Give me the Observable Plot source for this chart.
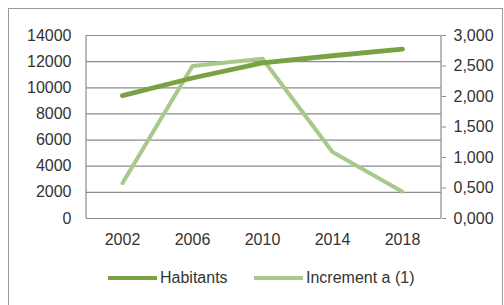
<!DOCTYPE html>
<html>
<head>
<meta charset="utf-8">
<script src="https://cdn.jsdelivr.net/npm/d3@7"></script>
<script src="https://cdn.jsdelivr.net/npm/@observablehq/plot@0.6"></script>
<style>
  body { margin: 0; background: #fff; font-family: "Liberation Sans", Arial, sans-serif; }
  #wrap { position: relative; width: 504px; height: 305px; overflow: hidden; }
  #border { position: absolute; left: 8px; top: 8px; width: 495px; height: 320px; border: 1px solid #9a9a9a; box-sizing: border-box; }
  #chart { position: absolute; left: 0; top: 0; }
  #legend { position: absolute; top: 268px; left: 0; width: 504px; height: 20px; font-size: 16px; color: #333; }
  .item { position: absolute; top: 0; height: 20px; display: flex; align-items: center; }
  .sw { width: 49px; height: 4.5px; margin-right: 3px; }
</style>
</head>
<body>
<div id="wrap">
  <div id="border"></div>
  <div id="chart"></div>
  <div id="legend"></div>
</div>
<script>
const years = ["2002", "2006", "2010", "2014", "2018"];
const habitants = [9400, 10750, 11900, 12450, 12950];
const increment = [0.58, 2.50, 2.62, 1.09, 0.44];
const leftTicks = [0, 2000, 4000, 6000, 8000, 10000, 12000, 14000];
const rightTicks = [0, 0.5, 1, 1.5, 2, 2.5, 3];
const seriesNames = ["Habitants", "Increment a (1)"];
const colors = ["#7aa245", "#a9c98a"];

const leftMax = 14000, rightMax = 3;
const toLeft = v => v * leftMax / rightMax;
const fmtRight = d => (d * rightMax / leftMax).toFixed(3).replace(".", ",");

const habData = years.map((y, i) => ({year: y, value: habitants[i]}));
const incData = years.map((y, i) => ({year: y, value: toLeft(increment[i])}));

const plot = Plot.plot({
  width: 504,
  height: 258,
  marginLeft: 86,
  marginRight: 63,
  marginTop: 35,
  marginBottom: 40,
  style: {fontFamily: "Liberation Sans, Arial, sans-serif", fontSize: "16px", color: "#333", background: "transparent"},
  x: {type: "point", domain: years, range: [120, 403], padding: 0, label: null},
  y: {domain: [0, leftMax], range: [218, 35], label: null},
  marks: [
    Plot.ruleY(leftTicks, {stroke: "#8c8c8c", strokeWidth: 1.2, strokeOpacity: 1}),
    Plot.axisY(leftTicks, {anchor: "left", tickSize: 0, tickPadding: 15, tickFormat: d => String(d), fill: "#333", label: null}),
    Plot.axisY(rightTicks.map(toLeft), {anchor: "right", tickSize: 4, tickPadding: 8, tickFormat: fmtRight, stroke: "#8c8c8c", fill: "#333", label: null}),
    Plot.axisX(years, {anchor: "bottom", tickSize: 0, tickPadding: 15, fill: "#333", label: null}),
    Plot.lineY(incData, {x: "year", y: "value", stroke: colors[1], strokeWidth: 4, strokeLinejoin: "round", strokeLinecap: "round"}),
    Plot.lineY(habData, {x: "year", y: "value", stroke: colors[0], strokeWidth: 4.8, strokeLinejoin: "round", strokeLinecap: "round"})
  ]
});

const svg = d3.select(plot);
[86, 441].forEach(x => {
  svg.append("line").attr("x1", x).attr("x2", x).attr("y1", 35).attr("y2", 218)
    .attr("stroke", "#8c8c8c").attr("stroke-width", 1.2);
});

document.getElementById("chart").appendChild(plot);

const legend = document.getElementById("legend");
const lefts = [108, 254];
seriesNames.forEach((n, i) => {
  const it = document.createElement("div");
  it.className = "item";
  it.style.left = lefts[i] + "px";
  it.innerHTML = `<span class="sw" style="background:${colors[i]}"></span><span>${n}</span>`;
  legend.appendChild(it);
});
</script>
</body>
</html>
